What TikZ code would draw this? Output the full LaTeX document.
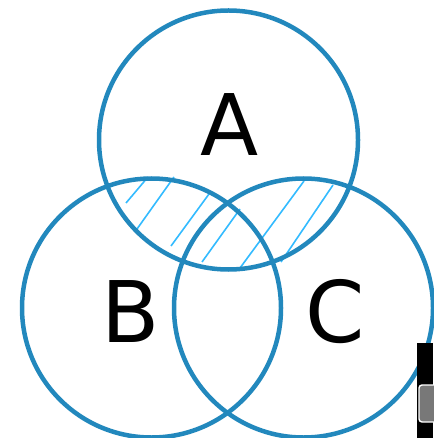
\documentclass[tikz,border=0pt]{standalone}
\usepackage{fontspec}
\setmainfont{DejaVu Sans}
\definecolor{ringblue}{RGB}{34,136,189}
\definecolor{hatchblue}{RGB}{51,187,255}
\definecolor{knobgrey}{RGB}{120,120,120}
\begin{document}
\begin{tikzpicture}[x=1pt,y=-1pt,
  ring/.style={draw=ringblue,line width=4.5pt,circle,minimum size=259pt,inner sep=0pt},
  hatch/.style={draw=hatchblue,line width=1.6pt},
  lbl/.style={font=\fontsize{85}{85}\selectfont,anchor=base,inner sep=0pt}]
\useasboundingbox (0,0) rectangle (433,438);
\fill[white] (0,0) rectangle (433,438);
% hatch lines
\coordinate (h1a) at (126,203); \coordinate (h1b) at (148,177);
\coordinate (h2a) at (137,229); \coordinate (h2b) at (174,177);
\coordinate (h3a) at (171,246); \coordinate (h3b) at (209,194);
\coordinate (h4a) at (202,262); \coordinate (h4b) at (240,209);
\coordinate (h5a) at (240,268); \coordinate (h5b) at (304,181);
\coordinate (h6a) at (281,262); \coordinate (h6b) at (333,185);
\foreach \i in {1,...,6} \draw[hatch] (h\i a) -- (h\i b);
% circles
\node[ring] (A) at (228.5,140) {};
\node[ring] (B) at (151.5,308) {};
\node[ring] (C) at (303.5,308) {};
% labels
\node[lbl] (la) at (229.5,156) {A};
\node[lbl] (lb) at (130.3,342) {B};
\node[lbl] (lc) at (335.3,342) {C};
% screenshot artefact
\fill[black] (417,343) rectangle (433,438);
\draw[white,line width=1.4pt,fill=knobgrey,rounded corners=3pt] (419,385) rectangle (440,422);
\end{tikzpicture}
\end{document}
